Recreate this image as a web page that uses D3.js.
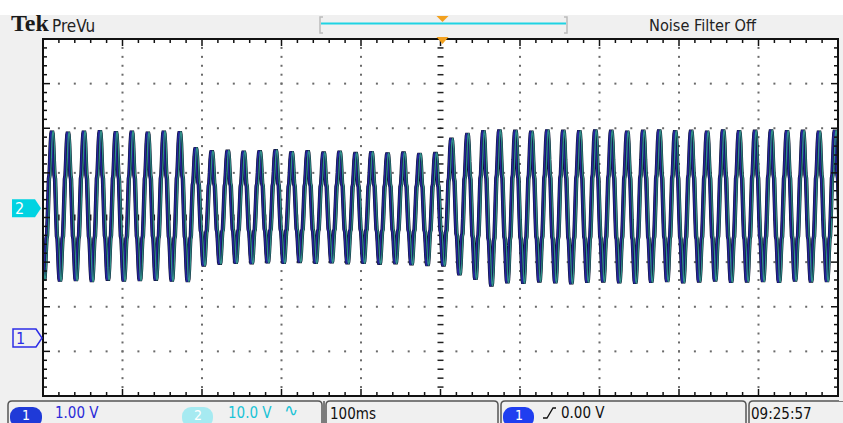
<!DOCTYPE html>
<html><head><meta charset="utf-8">
<script src="https://cdn.jsdelivr.net/npm/d3@7"></script>
<style>
html,body{margin:0;padding:0;background:#fff;}
svg{display:block;}
text{font-family:"Liberation Sans Narrow","DejaVu Sans Condensed","Roboto Condensed",sans-serif;}
</style></head>
<body>
<script>
// ---------------- data ----------------
const timeDomainMs = [0, 1000];           // 100 ms/div, 10 divisions
const divDomain = [-4, 4];                // 8 vertical divisions
const ch2VoltsPerDiv = 10;
const ch2OffsetDiv = 0.21;                // ch2 ground marker position
const ch1OffsetDiv = -2.7;                // ch1 ground marker position
const periodMs = 20.1;
const firstPeakMs = 11.3;
const firstTroughMs = 1.25;
// per-cycle positive peaks (V), 50 cycles
const peakV = [17.3,17.1,17.3,17.4,17.2,17.3,17.1,17.3,17.2,
  13.6,12.9,13.0,12.8,12.9,13.1,12.7,12.9,12.6,12.8,12.5,12.7,12.4,12.6,12.3,12.5,
  15.7,16.8,17.4,17.6,17.5,17.3,17.6,17.5,17.4,17.6,17.5,17.3,17.5,17.6,17.4,17.5,17.3,17.6,17.4,17.5,17.6,17.4,17.5,17.3,17.5];
// per-cycle negative troughs (V), 51 troughs
const troughV = [-16.2,-16.4,-16.3,-16.5,-16.2,-16.4,-16.3,-16.2,-16.4,-16.5,
  -13.0,-12.6,-12.4,-12.5,-12.3,-12.4,-12.2,-12.4,-12.3,-12.5,-12.4,-12.6,-12.5,-12.7,-12.9,
  -13.0,-15.0,-16.0,-17.5,-16.8,-16.9,-16.6,-16.8,-17.0,-16.7,-16.6,-16.8,-16.9,-16.7,-16.5,-16.8,-16.6,-16.4,-16.7,-16.6,-16.5,-16.7,-16.4,-16.6,-16.5,-16.6];
// one half-cycle shape from trough (-1) to peak (+1), with the sampled steps of the trace
const halfShape = [-1,-0.96,-0.82,-0.6,-0.42,-0.38,-0.15,0.12,0.38,0.43,0.62,0.84,0.96,1];

const topTitle = "Tek", topMode = "PreVu", topStatus = "Noise Filter Off";
const ch1Scale = "1.00 V", ch2Scale = "10.0 V", timeScale = "100ms";
const trigLevel = "0.00 V", clockText = "09:25:57";

// ---------------- layout ----------------
const W = 843, H = 423;
const L = 43, R = 838, T = 39, B = 396;
const svg = d3.select("body").append("svg").attr("width", W).attr("height", H);
const x = d3.scaleLinear().domain(timeDomainMs).range([L, R]);
const yDiv = d3.scaleLinear().domain(divDomain).range([B, T]);
const y2 = v => yDiv(v / ch2VoltsPerDiv + ch2OffsetDiv);

// background
svg.append("rect").attr("width", W).attr("height", H).attr("fill", "#fff");
svg.append("rect").attr("x", 0).attr("y", 15).attr("width", W).attr("height", H - 15).attr("fill", "#f0f0f0");
svg.append("rect").attr("x", L).attr("y", T).attr("width", R - L).attr("height", B - T).attr("fill", "#fff");

// grid dots
const g = svg.append("g");
const xMaj = d3.range(0, 1001, 100), xMin = d3.range(0, 1001, 20);
const yMaj = d3.range(-4, 4.01, 1), yMin = d3.range(-4, 4.01, 0.2);
xMaj.slice(1, -1).forEach(t => {
  if (t === 500) return;
  yMin.forEach(d => g.append("rect").attr("x", x(t) - 1).attr("y", yDiv(d) - 1).attr("width", 2).attr("height", 2).attr("fill", "#6a6a6a"));
});
yMaj.slice(1, -1).forEach(d => {
  if (d === 0) return;
  xMin.forEach(t => g.append("rect").attr("x", x(t) - 1).attr("y", yDiv(d) - 1).attr("width", 2).attr("height", 2).attr("fill", "#6a6a6a"));
});
// center crosshair ticks
yMin.forEach(d => {
  g.append("line").attr("x1", x(500) - 3).attr("x2", x(500) + 3).attr("y1", yDiv(d)).attr("y2", yDiv(d)).attr("stroke", "#222").attr("stroke-width", 1.5);
});
xMin.forEach(t => {
  g.append("line").attr("x1", x(t)).attr("x2", x(t)).attr("y1", yDiv(0) - 3).attr("y2", yDiv(0) + 3).attr("stroke", "#222").attr("stroke-width", 1.5);
});

// waveform
const pts = [];
const n = halfShape.length - 1;
for (let j = 0; j < troughV.length; j++) {
  const tT = firstTroughMs + j * periodMs;
  if (j < peakV.length) {
    const tP = firstPeakMs + j * periodMs;
    halfShape.forEach((s, k) => {
      const t = tT + (tP - tT) * k / n;
      pts.push([t, s < 0 ? -s * troughV[j] : s * peakV[j]]);
    });
    const tN = firstTroughMs + (j + 1) * periodMs;
    halfShape.slice().reverse().forEach((s, k) => {
      if (k === 0) return;
      const t = tP + (tN - tP) * k / n;
      pts.push([t, s < 0 ? -s * troughV[j + 1] : s * peakV[j]]);
    });
  }
}
pts.unshift([firstTroughMs - 3, troughV[0] * 0.8]);
const line = d3.line().x(d => x(d[0])).y(d => y2(d[1]));
svg.append("clipPath").attr("id", "pc").append("rect").attr("x", L + 1).attr("y", T).attr("width", R - L - 2).attr("height", B - T);
const wg = svg.append("g").attr("clip-path", "url(#pc)");
wg.append("path").datum(pts).attr("d", line).attr("fill", "none").attr("stroke", "#0b1029").attr("stroke-width", 4.4).attr("stroke-linejoin", "bevel");
wg.append("path").datum(pts).attr("d", line).attr("fill", "none").attr("stroke", "#24249a").attr("stroke-width", 1.6).attr("stroke-linejoin", "bevel").attr("transform", "translate(-0.9,0)");
wg.append("path").datum(pts).attr("d", line).attr("fill", "none").attr("stroke", "#2f8f88").attr("stroke-width", 1.3).attr("stroke-linejoin", "bevel").attr("transform", "translate(1.1,0)");

// border and border ticks
svg.append("rect").attr("x", L).attr("y", T).attr("width", R - L).attr("height", B - T).attr("fill", "none").attr("stroke", "#111").attr("stroke-width", 2);
const bt = svg.append("g").attr("stroke", "#111").attr("stroke-width", 1.5);
xMin.forEach(t => {
  const len = (t % 100 === 0) ? 7 : 4;
  bt.append("line").attr("x1", x(t)).attr("x2", x(t)).attr("y1", T).attr("y2", T + len);
  bt.append("line").attr("x1", x(t)).attr("x2", x(t)).attr("y1", B).attr("y2", B - len);
});
yMin.forEach(d => {
  const len = (Math.abs(Math.round(d * 5)) % 5 === 0) ? 7 : 4;
  bt.append("line").attr("x1", L).attr("x2", L + len).attr("y1", yDiv(d)).attr("y2", yDiv(d));
  bt.append("line").attr("x1", R).attr("x2", R - len).attr("y1", yDiv(d)).attr("y2", yDiv(d));
});

// top bar
svg.append("text").attr("x", 11).attr("y", 31).text(topTitle).attr("fill", "#1a1a1a")
  .attr("font-size", 24).attr("font-weight", "bold")
  .style("font-family", "'Liberation Serif','DejaVu Serif',serif");
svg.append("text").attr("x", 52).attr("y", 32).text(topMode).attr("font-size", 17).attr("fill", "#222");
svg.append("text").attr("x", 649).attr("y", 31).text(topStatus).attr("font-size", 16.2).attr("fill", "#222");
// record view
const tc = x(500) + 2;
svg.append("path").attr("d", "M323,17 L320,17 L320,33 L323,33").attr("fill", "none").attr("stroke", "#bbb").attr("stroke-width", 1.5);
svg.append("path").attr("d", "M564,17 L567,17 L567,33 L564,33").attr("fill", "none").attr("stroke", "#bbb").attr("stroke-width", 1.5);
svg.append("line").attr("x1", 321).attr("x2", 566).attr("y1", 23.5).attr("y2", 23.5).attr("stroke", "#1fd3e3").attr("stroke-width", 2);
svg.append("path").attr("d", `M${tc - 6},16 L${tc + 6},16 L${tc},22 Z`).attr("fill", "#f2a11f");
svg.append("path").attr("d", `M${tc - 6},37 L${tc + 6},37 L${tc},44 Z`).attr("fill", "#f2a11f");

// channel markers
const c2 = y2(0);
svg.append("path").attr("d", `M12,${c2 - 9} L35,${c2 - 9} L41,${c2} L35,${c2 + 9} L12,${c2 + 9} Z`).attr("fill", "#00d3e2");
svg.append("text").attr("x", 15).attr("y", c2 + 6).text("2").attr("font-size", 16).attr("fill", "#fff");
const c1 = yDiv(ch1OffsetDiv);
svg.append("path").attr("d", `M13,${c1 - 9} L36,${c1 - 9} L42,${c1} L36,${c1 + 9} L13,${c1 + 9} Z`).attr("fill", "#f0f0f0").attr("stroke", "#2c2ce6").attr("stroke-width", 1.5);
svg.append("text").attr("x", 16).attr("y", c1 + 6).text("1").attr("font-size", 16).attr("fill", "#2c2ce6");

// bottom panels
const panels = [[8, 322], [326, 498], [501, 746], [749, 848]];
panels.forEach(([a, b]) => {
  svg.append("path").attr("d", `M${a},424 L${a},405 Q${a},401 ${a + 4},401 L${b - 4},401 Q${b},401 ${b},405 L${b},424`).attr("fill", "#f0f0f0").attr("stroke", "#555").attr("stroke-width", 1.5);
});
svg.append("line").attr("x1", L).attr("x2", R).attr("y1", B).attr("y2", B).attr("stroke", "#111").attr("stroke-width", 2);

svg.append("rect").attr("x", 10).attr("y", 407).attr("width", 32).attr("height", 20).attr("rx", 9).attr("fill", "#1f3ad8");
svg.append("text").attr("x", 22).attr("y", 420).text("1").attr("font-size", 14).attr("fill", "#fff");
svg.append("text").attr("x", 55).attr("y", 418).text(ch1Scale).attr("font-size", 15).attr("fill", "#2a2ad8");
svg.append("rect").attr("x", 182).attr("y", 407).attr("width", 31).attr("height", 20).attr("rx", 9).attr("fill", "#a6eaf1");
svg.append("text").attr("x", 194).attr("y", 420).text("2").attr("font-size", 14).attr("fill", "#fff");
svg.append("text").attr("x", 228).attr("y", 418).text(ch2Scale).attr("font-size", 15).attr("fill", "#19c3d6");
svg.append("text").attr("x", 284).attr("y", 416).text("∿").attr("fill", "#19c3d6").attr("font-size", 17).style("font-family", "'DejaVu Sans',sans-serif");
svg.append("line").attr("x1", 324).attr("x2", 324).attr("y1", 401).attr("y2", 423).attr("stroke", "#555").attr("stroke-width", 1.5);
svg.append("text").attr("x", 330).attr("y", 419).text(timeScale).attr("font-size", 15).attr("fill", "#111");
svg.append("rect").attr("x", 503).attr("y", 407).attr("width", 31).attr("height", 20).attr("rx", 9).attr("fill", "#1f3ef0");
svg.append("text").attr("x", 515).attr("y", 420).text("1").attr("font-size", 14).attr("fill", "#fff");
svg.append("path").attr("d", "M543,418 L547,418 L553,408 L556,408").attr("fill", "none").attr("stroke", "#111").attr("stroke-width", 1.3);
svg.append("text").attr("x", 561).attr("y", 418).text(trigLevel).attr("font-size", 15).attr("fill", "#111");
svg.append("text").attr("x", 751).attr("y", 419).text(clockText).attr("font-size", 15).attr("fill", "#111");

// right strip
svg.append("rect").attr("x", R + 1).attr("y", 15).attr("width", W - R - 1).attr("height", 386).attr("fill", "#f0f0f0");
</script>
</body></html>
